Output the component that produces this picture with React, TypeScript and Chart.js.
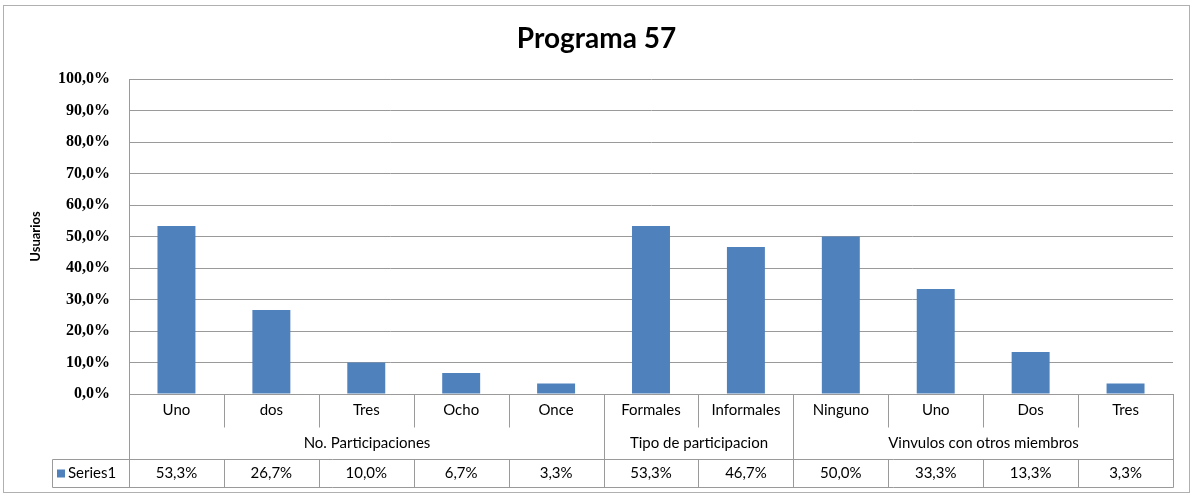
import React, { useEffect, useRef } from 'react';
import { Chart, registerables } from 'chart.js';

Chart.register(...registerables);

const categories = ['Uno', 'dos', 'Tres', 'Ocho', 'Once', 'Formales', 'Informales', 'Ninguno', 'Uno', 'Dos', 'Tres'];
const groupLabels = ['No. Participaciones', 'Tipo de participacion', 'Vinvulos con otros miembros'];
const groupSizes = [5, 2, 4];
const seriesName = 'Series1';
const seriesValues = [53.3, 26.7, 10.0, 6.7, 3.3, 53.3, 46.7, 50.0, 33.3, 13.3, 3.3];
const chartTitle = 'Programa 57';
const yAxisTitle = 'Usuarios';

const BAR_COLOR = '#4f81bd';
const LINE_COLOR = '#9a9a9a';
const SANS = 'Lato, "Open Sans", sans-serif';

const fmt = (v: number) => v.toFixed(1).replace('.', ',') + '%';

const tablePlugin = {
  id: 'dataTable',
  afterDraw(chart: any) {
    const ctx = chart.ctx as CanvasRenderingContext2D;
    const xs = chart.scales.x;
    const area = chart.chartArea;
    const n = categories.length;
    const edge = (i: number) => Math.round(xs.getPixelForValue(i - 0.5)) + 0.5;
    const r0 = Math.round(area.bottom) + 0.5;
    const r1 = r0 + 33;
    const r2 = r0 + 65;
    const r3 = r0 + 93;
    const legendLeft = 52.5;

    ctx.save();
    ctx.strokeStyle = LINE_COLOR;
    ctx.lineWidth = 1;
    const line = (x1: number, y1: number, x2: number, y2: number) => {
      ctx.beginPath();
      ctx.moveTo(x1, y1);
      ctx.lineTo(x2, y2);
      ctx.stroke();
    };

    const groupEdges: number[] = [0];
    groupSizes.forEach((s, i) => groupEdges.push(groupEdges[i] + s));

    for (let i = 0; i <= n; i++) {
      const x = edge(i);
      if (groupEdges.includes(i)) {
        line(x, r0, x, r3);
      } else {
        line(x, r0, x, r1);
        line(x, r2, x, r3);
      }
    }
    line(edge(0), area.top, edge(0), r3);
    line(legendLeft, r2, edge(n), r2);
    line(legendLeft, r3, edge(n), r3);
    line(legendLeft, r2, legendLeft, r3);

    ctx.fillStyle = '#000';
    ctx.textAlign = 'center';
    ctx.textBaseline = 'middle';
    ctx.font = `15px ${SANS}`;
    categories.forEach((c, i) => {
      ctx.fillText(c, xs.getPixelForValue(i), (r0 + r1) / 2 - 1);
    });
    groupLabels.forEach((g, gi) => {
      const cx = (edge(groupEdges[gi]) + edge(groupEdges[gi + 1])) / 2;
      ctx.fillText(g, cx, (r1 + r2) / 2);
    });
    seriesValues.forEach((v, i) => {
      ctx.fillText(fmt(v), xs.getPixelForValue(i), (r2 + r3) / 2);
    });
    ctx.fillStyle = BAR_COLOR;
    ctx.fillRect(57, (r2 + r3) / 2 - 4, 8, 8);
    ctx.fillStyle = '#000';
    ctx.textAlign = 'left';
    ctx.fillText(seriesName, 68, (r2 + r3) / 2);

    ctx.strokeStyle = '#b0b0b0';
    ctx.strokeRect(3.5, 5.5, chart.width - 7, chart.height - 9);
    ctx.restore();
  },
};

export default function App() {
  const ref = useRef<HTMLCanvasElement | null>(null);
  useEffect(() => {
    document.body.style.margin = '0';
    const chart = new Chart(ref.current as HTMLCanvasElement, {
      type: 'bar',
      data: {
        labels: categories,
        datasets: [
          {
            label: seriesName,
            data: seriesValues,
            backgroundColor: BAR_COLOR,
            borderWidth: 0,
            categoryPercentage: 1,
            barPercentage: 0.4,
          },
        ],
      },
      plugins: [tablePlugin],
      options: {
        animation: false,
        responsive: false,
        maintainAspectRatio: false,
        layout: { padding: { top: 8, left: 20, right: 20, bottom: 102 } },
        plugins: {
          legend: { display: false },
          tooltip: { enabled: false },
          title: {
            display: true,
            text: chartTitle,
            color: '#000',
            font: { family: SANS, size: 28, weight: 'bold', lineHeight: 1.2 },
            padding: { top: 14, bottom: 23.4 },
          },
        },
        scales: {
          x: {
            ticks: { display: false },
            grid: { display: false, drawTicks: false },
            border: { display: true, color: LINE_COLOR },
          },
          y: {
            min: 0,
            max: 100,
            ticks: {
              stepSize: 10,
              padding: 19,
              color: '#000',
              font: { family: '"Liberation Serif", serif', size: 16, weight: 'bold' },
              callback: (v: any) => fmt(Number(v)),
            },
            grid: { color: LINE_COLOR, drawTicks: false },
            border: { display: true, color: LINE_COLOR },
            title: {
              display: true,
              text: yAxisTitle,
              color: '#000',
              font: { family: SANS, size: 13, weight: 'bold' },
              padding: { top: 8, bottom: 0 },
            },
            afterFit: (s: any) => {
              s.width = 109;
            },
          },
        },
      },
    });
    return () => chart.destroy();
  }, []);
  return <canvas ref={ref} width={1193} height={496} style={{ display: 'block' }} />;
}
